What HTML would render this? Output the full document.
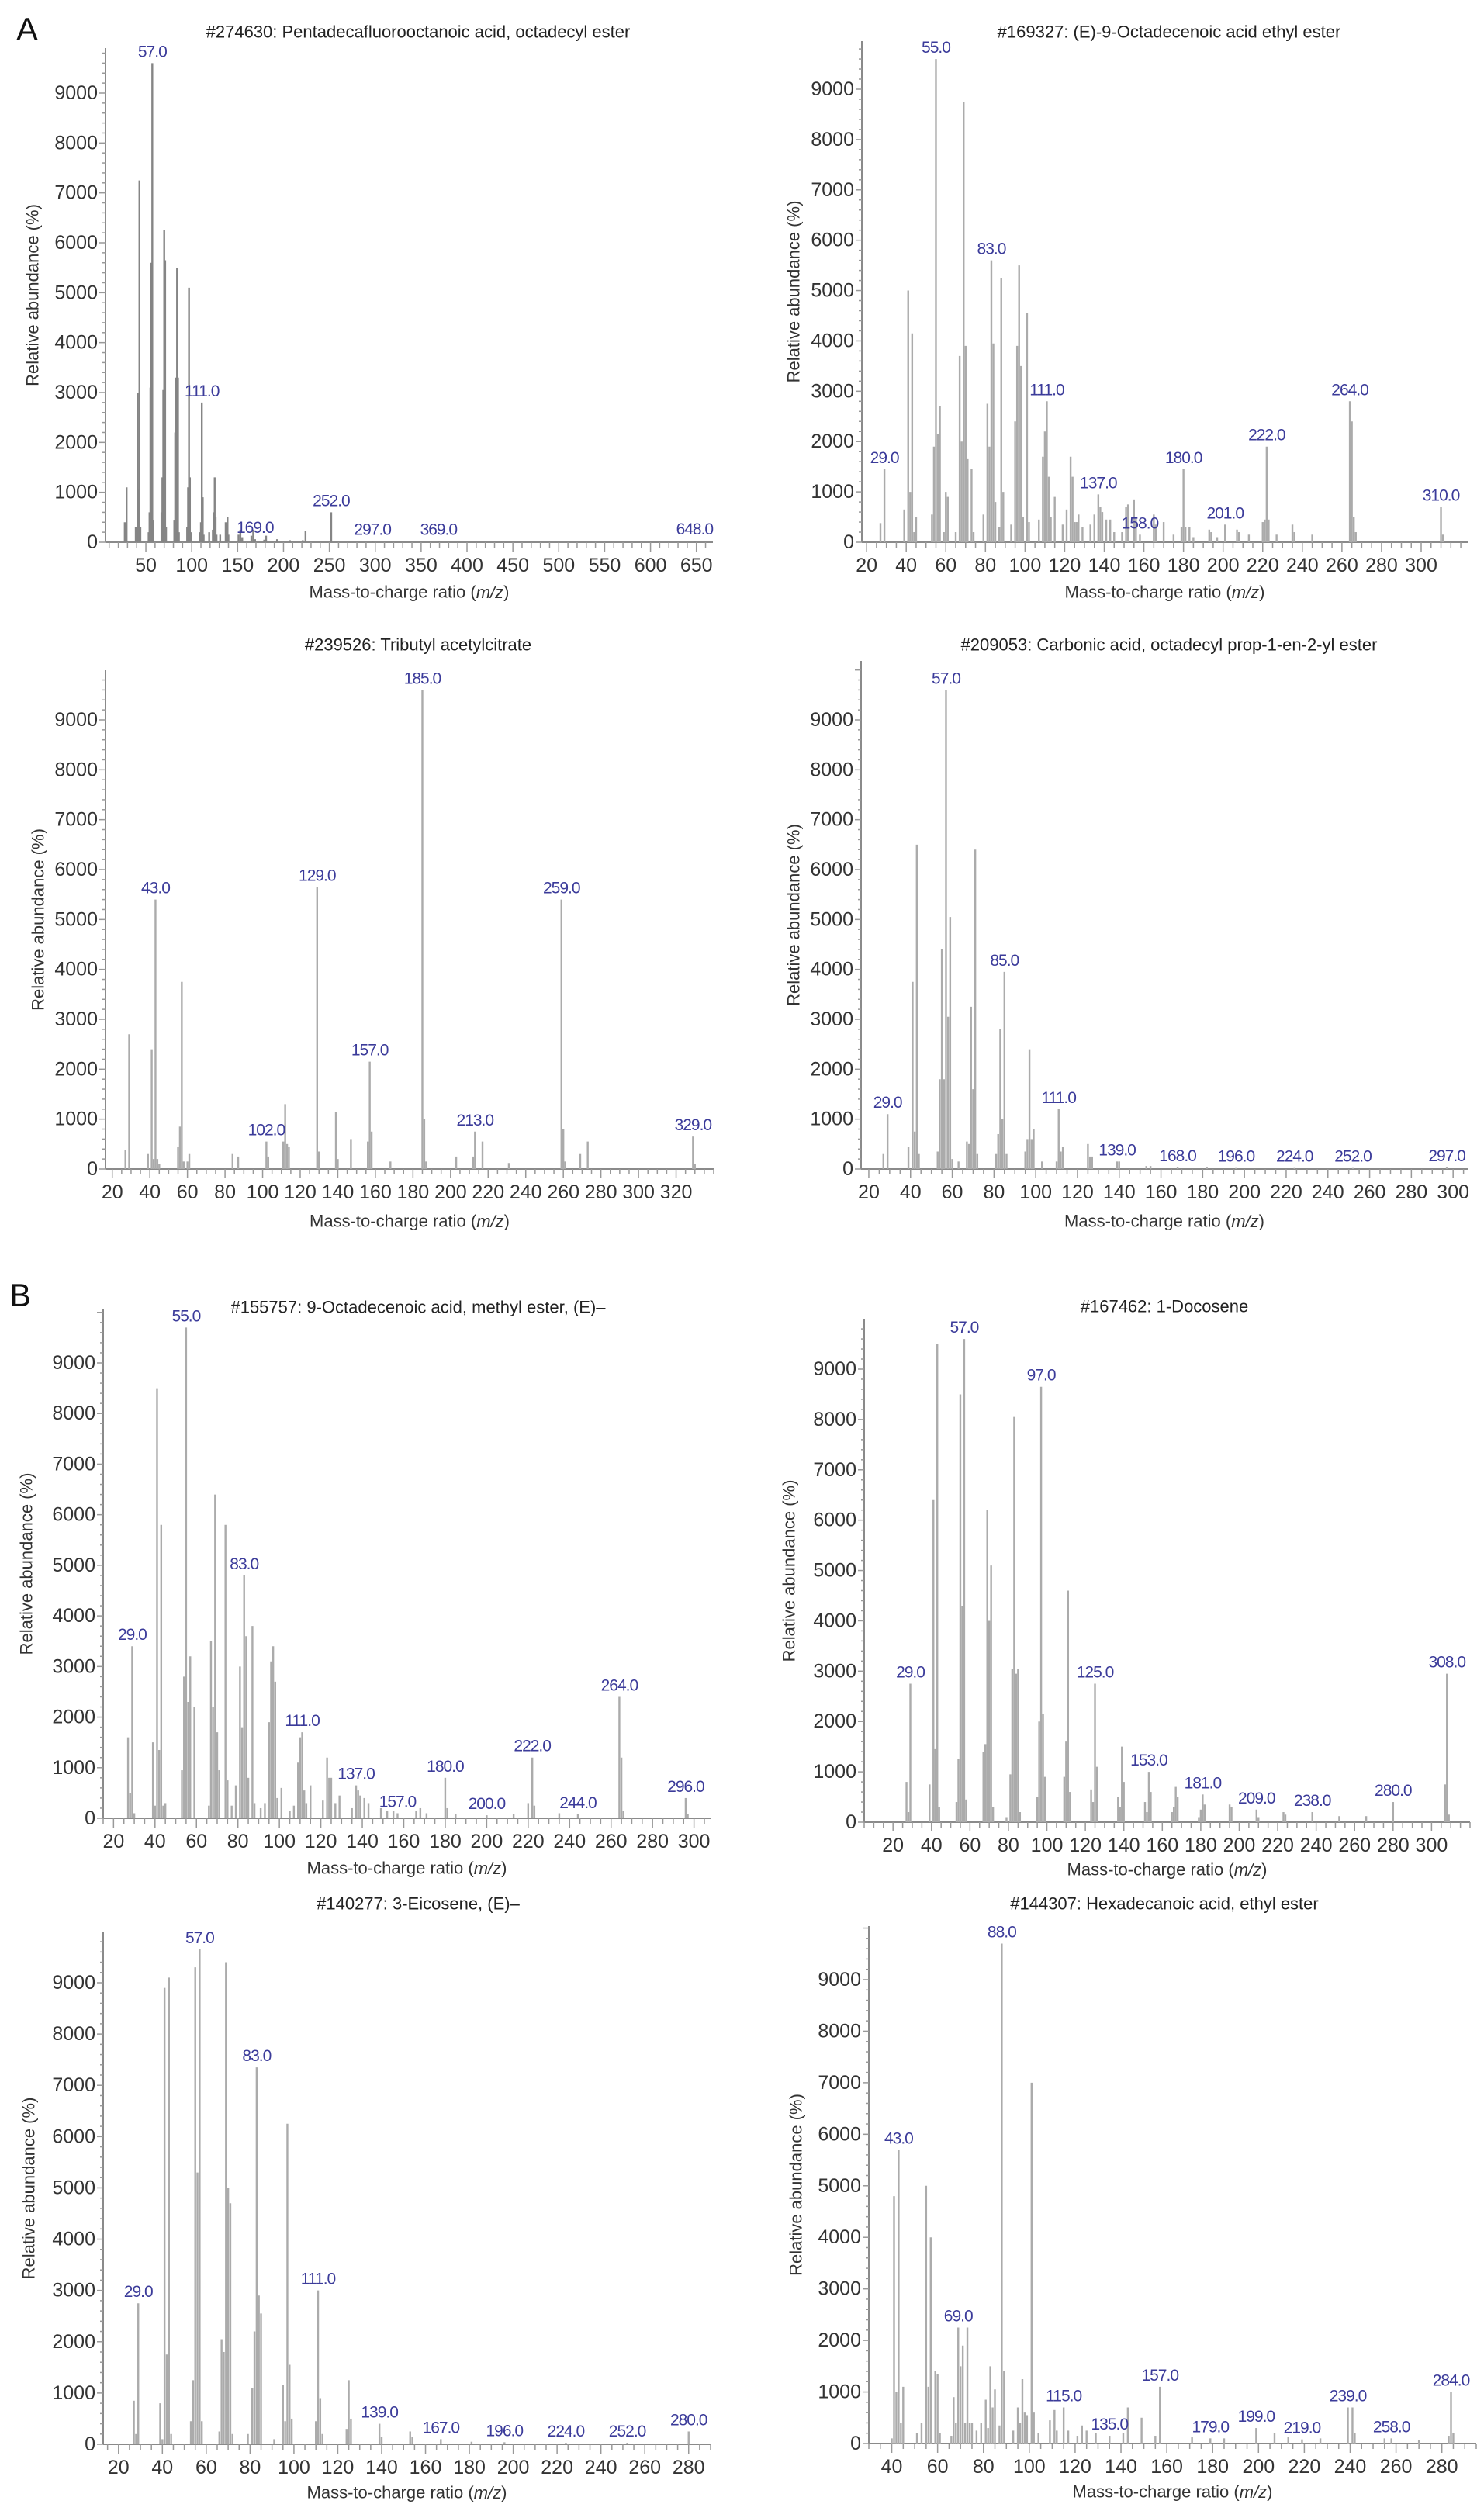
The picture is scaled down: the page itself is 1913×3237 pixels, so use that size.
<!DOCTYPE html>
<html><head><meta charset="utf-8">
<style>
html,body{margin:0;padding:0;background:#fff;}
svg{display:block;}
text{font-family:"Liberation Sans",Arial,sans-serif;}
.tick{fill:#333;font-size:25px;}
.ttl{fill:#222;font-size:22px;}
.axt{fill:#333;font-size:22px;}
.pk{fill:#3b3b9a;font-size:21px;letter-spacing:-1px;}
.big{fill:#111;font-size:42px;}
</style></head>
<body>
<svg id="fig" width="1913" height="3237" viewBox="0 0 1913 3237" xmlns="http://www.w3.org/2000/svg">
<rect width="1913" height="3237" fill="#fff"/>
<text class="big" x="35" y="52" text-anchor="middle">A</text>
<text class="big" x="26" y="1684" text-anchor="middle">B</text>
</svg>
<script>
// ---------- data ----------
const titles = [
 "#274630: Pentadecafluorooctanoic acid, octadecyl ester",
 "#169327: (E)-9-Octadecenoic acid ethyl ester",
 "#239526: Tributyl acetylcitrate",
 "#209053: Carbonic acid, octadecyl prop-1-en-2-yl ester",
 "#155757: 9-Octadecenoic acid, methyl ester, (E)\u2013",
 "#167462: 1-Docosene",
 "#140277: 3-Eicosene, (E)\u2013",
 "#144307: Hexadecanoic acid, ethyl ester"
];
const yTicks = [0,1000,2000,3000,4000,5000,6000,7000,8000,9000];

const mz1 = [27,29,39,41,42,43,44,53,54,55,56,57,58,67,68,69,70,71,72,81,82,83,84,85,86,95,96,97,98,99,109,110,111,112,113,119,123,124,125,126,127,131,137,139,140,151,153,155,165,167,169,179,181,193,207,221,224,252,297,369,648];
const ab1 = [400,1100,300,3000,1050,7250,300,200,600,3100,5600,9600,450,600,1300,3050,6250,5650,300,450,2200,3300,5500,3300,200,300,1100,5100,1300,200,200,400,2800,900,150,200,250,600,1300,500,150,150,400,500,150,150,250,100,130,250,60,50,130,60,40,40,220,600,20,20,30];
const lbl1 = [57,111,169,252,297,369,648];
const xt1 = [50,100,150,200,250,300,350,400,450,500,550,600,650];

const mz2 = [27,29,39,41,42,43,44,45,53,54,55,56,57,59,60,61,65,67,68,69,70,71,73,74,79,81,82,83,84,85,87,88,89,93,95,96,97,98,99,101,102,107,109,110,111,112,113,115,119,121,123,124,125,126,127,129,133,135,137,138,139,141,143,145,149,151,152,155,156,158,165,166,170,175,179,180,181,183,185,193,194,197,201,207,208,213,220,221,222,223,227,235,236,245,264,265,266,267,310,311];
const ab2 = [380,1450,650,5000,1000,4150,200,500,550,1900,9600,2150,2700,200,1000,900,200,3700,2000,8750,3900,1650,1450,200,550,2750,1900,5600,3950,800,300,5250,1000,350,2400,3900,5500,3500,500,4550,400,450,1700,2200,2800,1300,500,900,350,650,1700,1300,400,400,550,300,350,550,950,700,600,450,450,200,200,700,750,850,500,150,550,350,400,150,300,1450,300,300,100,250,200,100,350,250,200,150,400,450,1900,450,150,350,200,150,2800,2400,500,200,700,150];
const lbl2 = [29,55,83,111,137,158,180,201,222,264,310];
const xt2 = [20,40,60,80,100,120,140,160,180,200,220,240,260,280,300];

const mz3 = [27,29,39,41,42,43,44,45,55,56,57,58,60,61,84,87,102,103,111,112,113,114,129,130,139,140,147,156,157,158,168,185,186,187,203,212,213,217,231,259,260,261,269,273,329,330];
const ab3 = [380,2700,300,2400,200,5400,200,100,450,850,3750,150,150,300,300,250,550,250,550,1300,500,450,5650,350,1150,200,600,550,2150,750,150,9600,1000,150,250,250,750,550,120,5400,800,150,300,550,650,100];
const lbl3 = [43,102,129,157,185,213,259,329];
const xt3 = [20,40,60,80,100,120,140,160,180,200,220,240,260,280,300,320];

const mz4 = [27,29,39,41,42,43,44,53,54,55,56,57,58,59,60,63,67,68,69,70,71,72,81,82,83,84,85,86,95,96,97,98,99,103,110,111,112,113,125,126,127,139,140,153,155,168,182,196,224,252,297];
const ab4 = [300,1100,450,3750,750,6500,300,350,1800,4400,1800,9600,3050,5050,200,150,550,500,3250,1600,6400,300,300,700,2800,1000,3950,300,350,600,2400,600,800,150,150,1200,350,450,500,250,250,150,150,60,60,30,30,20,20,20,30];
const lbl4 = [29,57,85,111,139,168,196,224,252,297];
const xt4 = [20,40,60,80,100,120,140,160,180,200,220,240,260,280,300];

const mz5 = [27,28,29,30,39,40,41,42,43,44,45,53,54,55,56,57,59,66,67,68,69,70,71,74,75,77,79,81,82,83,84,85,87,88,91,93,95,96,97,98,99,101,105,107,109,110,111,112,113,115,121,123,124,125,127,129,135,137,138,139,141,143,149,152,155,157,166,168,171,180,181,185,200,213,220,222,223,235,244,264,265,266,296,297];
const ab5 = [1600,500,3400,100,1500,250,8500,1350,5800,250,300,950,2800,9700,2300,3200,2200,250,3500,2200,6400,1700,950,5800,750,250,650,3000,1800,4800,3600,800,3800,300,200,300,1900,3100,3400,2700,400,600,150,250,1100,1600,1700,550,300,650,350,1200,800,800,300,450,200,650,550,450,400,300,200,150,150,100,150,200,100,800,200,80,60,80,300,1200,250,100,80,2400,1200,150,400,80];
const lbl5 = [29,55,83,111,137,157,180,200,222,244,264,296];
const xt5 = [20,40,60,80,100,120,140,160,180,200,220,240,260,280,300];

const mz6 = [27,28,29,39,41,42,43,44,53,54,55,56,57,58,67,68,69,70,71,72,79,81,82,83,84,85,86,95,96,97,98,99,109,110,111,112,123,124,125,126,137,138,139,140,151,152,153,154,165,166,167,168,179,180,181,182,195,196,209,210,223,224,238,252,266,280,307,308,309];
const ab6 = [800,200,2750,750,6400,1450,9500,300,400,1250,8500,4300,9600,450,1400,1550,6200,4000,5100,300,100,950,3050,8050,2950,3050,200,500,2000,8650,2150,900,900,1600,4600,600,650,400,2750,1100,500,300,1500,800,400,200,1000,600,200,300,700,500,100,250,550,350,350,300,250,100,200,150,200,120,120,400,750,2950,150];
const lbl6 = [29,57,97,125,153,181,209,238,280,308];
const xt6 = [20,40,60,80,100,120,140,160,180,200,220,240,260,280,300];

const mz7 = [27,28,29,39,40,41,42,43,44,53,54,55,56,57,58,66,67,68,69,70,71,72,79,81,82,83,84,85,91,95,96,97,98,99,110,111,112,113,124,125,126,139,140,153,154,167,181,196,224,252,280];
const ab7 = [850,200,2750,800,100,8900,1750,9100,200,450,1250,9300,5300,9650,450,250,2050,1800,9400,5000,4700,200,200,1100,2200,7350,2900,2550,100,1150,450,6250,1550,500,450,3000,900,200,300,1250,500,400,150,250,150,100,50,40,30,30,250];
const lbl7 = [29,57,83,111,139,167,196,224,252,280];
const xt7 = [20,40,60,80,100,120,140,160,180,200,220,240,260,280];

const mz8 = [40,41,42,43,44,45,51,53,55,56,57,59,60,61,66,67,68,69,70,71,72,73,74,75,77,79,81,82,83,84,85,87,88,89,93,95,96,97,98,99,101,102,104,109,111,112,115,117,121,123,125,129,135,141,143,149,155,157,171,179,185,199,207,213,219,227,239,241,242,255,258,270,283,284,285];
const ab8 = [100,4800,1000,5700,400,1100,200,400,5000,1100,4000,1400,1350,200,150,900,400,2250,1500,1900,400,2250,400,400,250,400,850,300,1500,700,1050,350,9700,1400,250,700,400,1250,600,550,7000,600,200,450,650,250,700,250,150,350,250,200,150,200,700,500,150,1100,120,100,100,300,200,120,80,100,700,700,200,100,100,60,150,1000,200];
const lbl8 = [43,69,88,115,135,157,179,199,219,239,258,284];
const xt8 = [40,60,80,100,120,140,160,180,200,220,240,260,280];

// ---------- layout (geometry only) ----------
const panels = [
 {mz:mz1,ab:ab1,lbl:lbl1,xt:xt1,minor:10,x0:136,x1:919,xmin:6,xmax:668,base:699,y9:120,top:62,tx:539,ty:41,yt:42,xtl:763,col:"#858585"},
 {mz:mz2,ab:ab2,lbl:lbl2,xt:xt2,minor:5,x0:1111,x1:1892,xmin:17.6,xmax:323.5,base:699,y9:115,top:53,tx:1507,ty:41,yt:1023,xtl:763,col:"#ababab"},
 {mz:mz3,ab:ab3,lbl:lbl3,xt:xt3,minor:5,x0:136,x1:920,xmin:16.4,xmax:340,base:1507,y9:928,top:864,tx:539,ty:831,yt:49,xtl:1574,col:"#ababab"},
 {mz:mz4,ab:ab4,lbl:lbl4,xt:xt4,minor:5,x0:1110,x1:1892,xmin:16.3,xmax:307,base:1507,y9:928,top:852,tx:1507,ty:831,yt:1023,xtl:1574,col:"#ababab"},
 {mz:mz5,ab:ab5,lbl:lbl5,xt:xt5,minor:5,x0:133,x1:916,xmin:15,xmax:308,base:2344,y9:1757,top:1688,tx:539,ty:1685,yt:34,xtl:2408,col:"#ababab"},
 {mz:mz6,ab:ab6,lbl:lbl6,xt:xt6,minor:5,x0:1114,x1:1895,xmin:5,xmax:320,base:2349,y9:1765,top:1701,tx:1501,ty:1684,yt:1017,xtl:2410,col:"#ababab"},
 {mz:mz7,ab:ab7,lbl:lbl7,xt:xt7,minor:5,x0:133,x1:916,xmin:13,xmax:290,base:3151,y9:2556,top:2491,tx:539,ty:2454,yt:37,xtl:3213,col:"#ababab"},
 {mz:mz8,ab:ab8,lbl:lbl8,xt:xt8,minor:5,x0:1120,x1:1903,xmin:30,xmax:295,base:3150,y9:2552,top:2483,tx:1501,ty:2454,yt:1026,xtl:3212,col:"#ababab"}
];

const NS = "http://www.w3.org/2000/svg";
const svg = document.getElementById("fig");
function mk(tag, attrs, parent, txt){
  const e = document.createElementNS(NS, tag);
  for (const k in attrs) e.setAttribute(k, attrs[k]);
  if (txt !== undefined) e.textContent = txt;
  parent.appendChild(e);
  return e;
}

panels.forEach((p, i) => {
  const n = i + 1;
  const g = mk("g", {}, svg);
  
  
  const pxu = (p.x1 - p.x0) / (p.xmax - p.xmin);
  const X = v => p.x0 + (v - p.xmin) * pxu;
  const per = (p.base - p.y9) / 9000;
  const Y = v => p.base - v * per;

  const t = mk("text", {class:"ttl", x:p.tx, y:p.ty, "text-anchor":"middle", "dominant-baseline":"central"}, g, titles[i]);
  
  

  const ya = mk("line", {x1:p.x0, y1:p.top, x2:p.x0, y2:p.base, stroke:"#8a8a8a", "stroke-width":2}, g);
  
  
  const xa = mk("line", {x1:p.x0, y1:p.base, x2:p.x1, y2:p.base, stroke:"#8a8a8a", "stroke-width":2}, g);
  
  

  for (let v = 0; Y(v) >= p.top; v += 200) {
    const major = v % 1000 === 0;
    mk("line", {x1:p.x0 - (major ? 8 : 4), y1:Y(v), x2:p.x0, y2:Y(v), stroke:"#999", "stroke-width":1.5}, g);
  }
  yTicks.forEach(v => {
    const tl = mk("text", {class:"tick", x:p.x0 - 10, y:Y(v), "text-anchor":"end", "dominant-baseline":"central"}, g, String(v));
    
    
  });

  const start = Math.ceil(p.xmin / p.minor) * p.minor;
  for (let v = start; v <= p.xmax; v += p.minor) {
    const major = p.xt.indexOf(v) >= 0;
    mk("line", {x1:X(v), y1:p.base, x2:X(v), y2:p.base + (major ? 12 : 7), stroke:"#999", "stroke-width":1.5}, g);
  }
  p.xt.forEach(v => {
    const tl = mk("text", {class:"tick", x:X(v), y:p.base + 30, "text-anchor":"middle", "dominant-baseline":"central"}, g, String(v));
    
    
  });

  const yt = mk("text", {class:"axt", x:p.yt, y:(p.top + p.base) / 2, "text-anchor":"middle", "dominant-baseline":"central", transform:`rotate(-90 ${p.yt} ${(p.top + p.base) / 2})`}, g, "Relative abundance (%)");
  
  
  const xtt = mk("text", {class:"axt", x:(p.x0 + p.x1) / 2, y:p.xtl, "text-anchor":"middle", "dominant-baseline":"central"}, g);
  
  
  xtt.appendChild(document.createTextNode("Mass-to-charge ratio ("));
  mk("tspan", {"font-style":"italic"}, xtt, "m/z");
  xtt.appendChild(document.createTextNode(")"));

  p.mz.forEach((m, k) => {
    const ln = mk("line", {x1:X(m), y1:p.base, x2:X(m), y2:Y(p.ab[k]), stroke:p.col, "stroke-width":2.4}, g);
    
    
  });

  p.lbl.forEach(m => {
    const k = p.mz.indexOf(m);
    const v = k >= 0 ? p.ab[k] : 0;
    const lt = mk("text", {class:"pk", x:X(m), y:Y(v) - 8, "text-anchor":"middle"}, g, m.toFixed(1));
    
    
  });
});
</script>
</body></html>
